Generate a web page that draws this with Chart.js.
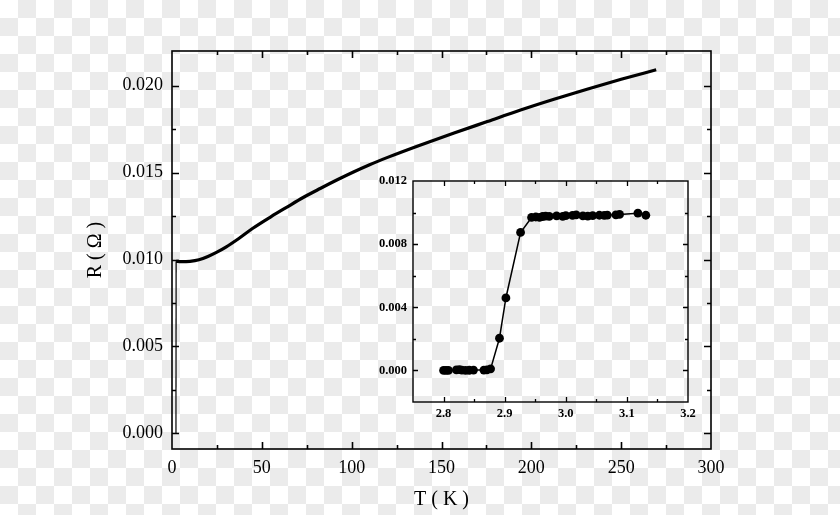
<!DOCTYPE html>
<html><head><meta charset="utf-8">
<script src="https://cdn.jsdelivr.net/npm/chart.js@4/dist/chart.umd.min.js"></script>
<style>
html,body{margin:0;padding:0;background:#fff;}
#wrap{position:relative;width:840px;height:515px;}
canvas{position:absolute;left:0;top:0;}
</style></head><body>
<div id="wrap"><canvas id="main" width="840" height="515"></canvas><canvas id="inset" width="840" height="515"></canvas></div>
<script>
// ---- main R(T) curve ----
const mainT = [2.3, 5, 10, 15, 20, 25, 30, 37, 45, 55, 64, 73, 82.5, 92, 101, 110, 120, 138, 157, 175.5, 194, 212.6, 231, 250, 269.5];
const mainR = [0.00990, 0.00988, 0.00990, 0.00999, 0.01018, 0.01043, 0.01072, 0.01120, 0.01180, 0.01246, 0.01302, 0.01357, 0.01409, 0.01459, 0.01504, 0.01546, 0.01588, 0.01658, 0.01728, 0.01794, 0.01860, 0.01922, 0.01980, 0.02037, 0.02092];
// superconducting drop seen at low T in the main panel
const dropT = [2.2, 2.3];
const dropR = [0.0, 0.0099];
const mainXTicks = [0, 50, 100, 150, 200, 250, 300];
const mainYTicks = [0.000, 0.005, 0.010, 0.015, 0.020];
// ---- inset: transition ----
const insetT = [2.800, 2.804, 2.808, 2.821, 2.826, 2.830, 2.836, 2.842, 2.849, 2.866, 2.871, 2.877, 2.8915, 2.902, 2.926, 2.944, 2.951, 2.957, 2.962, 2.967, 2.973, 2.985, 2.995, 3.000, 3.011, 3.017, 3.028, 3.036, 3.044, 3.055, 3.063, 3.068, 3.082, 3.088, 3.118, 3.131];
const insetR = [0.00000, 0.00000, 0.00000, 0.00003, 0.00005, 0.00002, 0.00000, 0.00001, 0.00002, 0.00002, 0.00003, 0.00010, 0.00204, 0.00459, 0.00874, 0.00969, 0.00972, 0.00970, 0.00975, 0.00978, 0.00976, 0.00979, 0.00976, 0.00981, 0.00982, 0.00985, 0.00979, 0.00977, 0.00981, 0.00983, 0.00982, 0.00984, 0.00986, 0.00988, 0.00996, 0.00983];
const insetXTicks = [2.8, 2.9, 3.0, 3.1, 3.2];
const insetYTicks = [0.000, 0.004, 0.008, 0.012];

const pts = (xs, ys) => xs.map((v, i) => ({x: v, y: ys[i]}));

function minorsOf(majors, min, max) {
  const step = (majors[1] - majors[0]) / 2;
  const out = [];
  for (let v = majors[0] - 4 * step; v <= max + 1e-9; v += step) {
    if (v < min - 1e-9) continue;
    if (majors.some(m => Math.abs(m - v) < step * 1e-3)) continue;
    out.push(v);
  }
  return out;
}

const framePlugin = {
  id: 'frame',
  beforeDraw(chart, args, o) {
    if (!o.checker) return;
    const ctx = chart.ctx, s = 18;
    ctx.save();
    ctx.fillStyle = '#ffffff';
    ctx.fillRect(0, 0, chart.width, chart.height);
    ctx.fillStyle = '#ebebeb';
    for (let r = 0; r * s < chart.height; r++)
      for (let c = 0; c * s < chart.width; c++)
        if ((r + c) % 2 === 1) ctx.fillRect(c * s, r * s, s, s);
    ctx.restore();
  },
  afterDraw(chart, args, o) {
    const {ctx, chartArea: a, scales: {x, y}} = chart;
    ctx.save();
    ctx.strokeStyle = '#000';
    ctx.lineWidth = o.lw;
    ctx.strokeRect(a.left, a.top, a.right - a.left, a.bottom - a.top);
    ctx.lineWidth = o.tw;
    const xm = o.xMajor, ym = o.yMajor;
    const xn = minorsOf(xm, x.min, x.max), yn = minorsOf(ym, y.min, y.max);
    ctx.beginPath();
    const vx = (v, len) => {
      const p = Math.round(x.getPixelForValue(v)) + 0.5;
      if (p <= a.left + 1 || p >= a.right - 1) return;
      ctx.moveTo(p, a.bottom); ctx.lineTo(p, a.bottom - len);
      ctx.moveTo(p, a.top); ctx.lineTo(p, a.top + len);
    };
    const vy = (v, len) => {
      const p = Math.round(y.getPixelForValue(v)) + 0.5;
      if (p <= a.top + 1 || p >= a.bottom - 1) return;
      ctx.moveTo(a.left, p); ctx.lineTo(a.left + len, p);
      ctx.moveTo(a.right, p); ctx.lineTo(a.right - len, p);
    };
    xm.forEach(v => vx(v, o.maj)); xn.forEach(v => vx(v, o.min));
    ym.forEach(v => vy(v, o.maj)); yn.forEach(v => vy(v, o.min));
    ctx.stroke();
    ctx.restore();
  }
};

const serif = 'Liberation Serif, Times New Roman, serif';

new Chart(document.getElementById('main'), {
  type: 'scatter',
  data: {datasets: [
    {data: pts(mainT, mainR), showLine: true, borderColor: '#000', borderWidth: 3.2, pointRadius: 0, cubicInterpolationMode: 'monotone', fill: false},
    {data: pts(dropT, dropR), showLine: true, borderColor: '#000', borderWidth: 1.2, pointRadius: 0, tension: 0, fill: false}
  ]},
  options: {
    responsive: false, animation: false, devicePixelRatio: 1,
    layout: {padding: {top: 51, right: 129, left: 0, bottom: 0}},
    plugins: {legend: {display: false}, tooltip: {enabled: false},
      frame: {checker: true, lw: 1.6, tw: 1.6, maj: 7, min: 4, xMajor: mainXTicks, yMajor: mainYTicks}},
    scales: {
      x: {type: 'linear', min: 0, max: 300,
        grid: {display: false, drawTicks: false}, border: {display: false},
        afterBuildTicks: s => { s.ticks = mainXTicks.map(v => ({value: v})); },
        afterFit: s => { s.height = 66; },
        ticks: {color: '#000', font: {family: serif, size: 18}, padding: 8, maxRotation: 0, autoSkip: false, callback: v => String(v)},
        title: {display: true, text: 'T ( K )', color: '#000', font: {family: serif, size: 20}, padding: {top: 0, bottom: 3}}
      },
      y: {type: 'linear', min: -0.0009, max: 0.0220,
        grid: {display: false, drawTicks: false}, border: {display: false},
        afterBuildTicks: s => { s.ticks = mainYTicks.map(v => ({value: v})); },
        afterFit: s => { s.width = 172; },
        ticks: {color: '#000', font: {family: serif, size: 18}, padding: 9, autoSkip: false, callback: v => Number(v).toFixed(3)},
        title: {display: true, text: 'R ( Ω )', color: '#000', font: {family: serif, size: 20}, padding: {top: 84, bottom: 0}}
      }
    }
  },
  plugins: [framePlugin]
});

new Chart(document.getElementById('inset'), {
  type: 'scatter',
  data: {datasets: [
    {data: pts(insetT, insetR), showLine: true, borderColor: '#000', borderWidth: 1.5, pointRadius: 4.4, pointBackgroundColor: '#000', pointBorderColor: '#000', pointBorderWidth: 0, tension: 0, fill: false}
  ]},
  options: {
    responsive: false, animation: false, devicePixelRatio: 1,
    layout: {padding: {top: 181, right: 152, left: 0, bottom: 0}},
    plugins: {legend: {display: false}, tooltip: {enabled: false},
      frame: {checker: false, lw: 1.4, tw: 1.3, maj: 5, min: 3, xMajor: insetXTicks, yMajor: insetYTicks}},
    scales: {
      x: {type: 'linear', min: 2.75, max: 3.2,
        grid: {display: false, drawTicks: false}, border: {display: false},
        afterBuildTicks: s => { s.ticks = insetXTicks.map(v => ({value: v})); },
        afterFit: s => { s.height = 113; },
        ticks: {color: '#000', font: {family: serif, size: 12.5, weight: 'bold'}, padding: 4, maxRotation: 0, autoSkip: false, callback: v => Number(v).toFixed(1)}
      },
      y: {type: 'linear', min: -0.002, max: 0.012,
        grid: {display: false, drawTicks: false}, border: {display: false},
        afterBuildTicks: s => { s.ticks = insetYTicks.map(v => ({value: v})); },
        afterFit: s => { s.width = 413; },
        ticks: {color: '#000', font: {family: serif, size: 12.5, weight: 'bold'}, padding: 6, autoSkip: false, callback: v => Number(v).toFixed(3)}
      }
    }
  },
  plugins: [framePlugin]
});
</script>
</body></html>
